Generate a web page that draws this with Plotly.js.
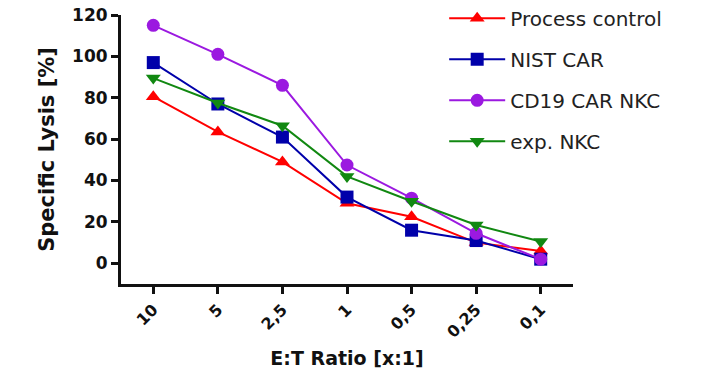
<!DOCTYPE html>
<html>
<head>
<meta charset="utf-8">
<script src="https://cdn.plot.ly/plotly-3.0.1.min.js"></script>
<style>html,body{margin:0;padding:0;background:#fff;}#chart{width:703px;height:377px;}</style>
</head>
<body>
<div id="chart"></div>
<script>
const ratios = ["10", "5", "2,5", "1", "0,5", "0,25", "0,1"];
const processControl = [80.5, 63.5, 49, 29, 22.5, 10, 6];
const nistCar = [97, 77, 61, 32, 16, 11, 2];
const cd19CarNkc = [115, 101, 86, 47.5, 31.5, 14.5, 2];
const expNkc = [89.5, 77.5, 66.5, 42, 30, 18.5, 10.5];

const seriesNames = ["Process control", "NIST CAR", "CD19 CAR NKC", "exp. NKC"];
const seriesColors = ["#ff0000", "#0000aa", "#9b19e0", "#118811"];
const seriesSymbols = ["triangle-up", "square", "circle", "triangle-down"];
const seriesValues = [processControl, nistCar, cd19CarNkc, expNkc];

const traces = seriesValues.map((vals, i) => ({
  x: ratios,
  y: vals,
  name: seriesNames[i],
  type: "scatter",
  mode: "lines+markers",
  legendgroup: "g" + i,
  line: {color: seriesColors[i], width: 2},
  marker: {color: seriesColors[i], symbol: seriesSymbols[i], size: 13}
}));

const boldFont = "DejaVu Sans, Liberation Sans, Arial, sans-serif";

const layout = {
  width: 703, height: 377,
  margin: {l: 121, r: 130, t: 15, b: 93, autoexpand: false},
  paper_bgcolor: "#fff", plot_bgcolor: "#fff",
  showlegend: true,
  legend: {
    x: 0.715, xanchor: "left", y: 1.06, yanchor: "top",
    font: {family: "DejaVu Sans, Liberation Sans, Arial, sans-serif", size: 20, color: "#222"},
    tracegroupgap: 12, itemwidth: 56, bgcolor: "rgba(0,0,0,0)"
  },
  xaxis: {
    type: "category", range: [-0.5, 6.5], automargin: false,
    showline: true, linecolor: "#111", linewidth: 3,
    ticks: "outside", ticklen: 7, tickwidth: 3, tickcolor: "#111",
    showgrid: false, zeroline: false, tickangle: -45,
    tickfont: {family: boldFont, size: 16, color: "#111", weight: "bold"},
    title: {text: "E:T Ratio [x:1]", standoff: 12,
      font: {family: boldFont, size: 19, color: "#111", weight: "bold"}}
  },
  yaxis: {
    range: [-10, 120], tickvals: [0, 20, 40, 60, 80, 100, 120], automargin: false,
    showline: true, linecolor: "#111", linewidth: 3,
    ticks: "outside", ticklen: 7, tickwidth: 3, tickcolor: "#111",
    showgrid: false, zeroline: false,
    tickfont: {family: boldFont, size: 17, color: "#111", weight: "bold"},
    title: {text: "Specific Lysis [%]", standoff: 12,
      font: {family: boldFont, size: 21, color: "#111", weight: "bold"}}
  }
};

Plotly.newPlot("chart", traces, layout, {displayModeBar: false, staticPlot: true});
</script>
</body>
</html>
